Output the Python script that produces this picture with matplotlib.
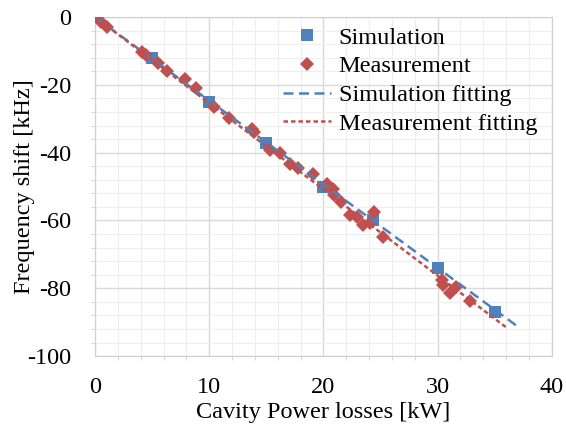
import matplotlib.pyplot as plt
from matplotlib.ticker import MultipleLocator

# simulation points
sim_x = [0, 5, 10, 15, 20, 24.3, 30, 35]
sim_y = [0, -12, -25, -37, -50, -60, -74, -87]

# measured points
meas_x = [0.5, 1.0, 4.1, 4.5, 5.5, 6.3, 7.9, 8.8, 10.4, 11.7, 13.7, 13.9,
          15.3, 16.2, 17.1, 17.8, 19.1, 20.3, 20.8, 20.9, 21.5, 22.3, 22.9,
          23.5, 24.4, 24.1, 25.2, 30.4, 30.5, 31.1, 31.6, 32.8]
meas_y = [-1.5, -2.8, -10.2, -11.2, -13.7, -15.8, -18.3, -21.0, -26.5, -29.9,
          -33.1, -34.0, -39.2, -40.1, -43.2, -44.6, -46.3, -49.2, -50.8, -52.5,
          -54.5, -58.4, -58.9, -61.4, -57.4, -60.8, -65.0, -77.6, -79.1, -81.5,
          -79.7, -83.7]

# fitting lines (end points)
sim_fit_x = [0, 37.1]
sim_fit_y = [0, -91.5]
meas_fit_x = [0, 36.0]
meas_fit_y = [0, -91.5]

blue = "#4F81BD"
red = "#C0504D"

plt.rcParams["font.family"] = ["Liberation Serif", "DejaVu Serif"]
plt.rcParams["font.size"] = 17.5
plt.rcParams["axes.unicode_minus"] = False

fig = plt.figure(figsize=(5.66, 4.26), dpi=100)
ax = fig.add_axes([0.168, 0.164, 0.807, 0.796])

ax.plot(sim_x, sim_y, "s", color=blue, ms=8, mew=0, label="Simulation", zorder=3)
ax.plot(meas_x, meas_y, "D", color=red, ms=7, mew=0, label="Measurement", zorder=4)
ax.plot(sim_fit_x, sim_fit_y, color=blue, lw=1.8, dashes=(4, 2.2),
        label="Simulation fitting", zorder=5)
ax.plot(meas_fit_x, meas_fit_y, color=red, lw=1.8, dashes=(1.8, 1.2),
        label="Measurement fitting", zorder=5)

ax.set_xlim(0, 40)
ax.set_ylim(-100, 0)
ax.xaxis.set_major_locator(MultipleLocator(10))
ax.xaxis.set_minor_locator(MultipleLocator(2))
ax.yaxis.set_major_locator(MultipleLocator(20))
ax.yaxis.set_minor_locator(MultipleLocator(4))
ax.grid(which="major", color="#D9D9D9", lw=1.0, zorder=0)
ax.grid(which="minor", color="#EEEEEE", lw=0.8, zorder=0)
ax.set_axisbelow(True)
for s in ax.spines.values():
    s.set_color("#D0D0D0")
ax.tick_params(which="major", length=0)
ax.tick_params(axis="x", which="major", pad=15)
ax.tick_params(axis="y", which="major", pad=17)
ax.tick_params(which="minor", length=3, color="#D0D0D0")

ax.set_xlabel("Cavity Power losses [kW]", labelpad=3)
ax.set_ylabel("Frequency shift [kHz]")
ax.yaxis.set_label_coords(-0.131, 0.5)

ax.legend(loc="upper right", bbox_to_anchor=(1.0, 1.014), frameon=False,
          handlelength=2.0, handletextpad=0.3, labelspacing=0.27,
          borderaxespad=0.2)

fig.savefig("out.png", dpi=100)
